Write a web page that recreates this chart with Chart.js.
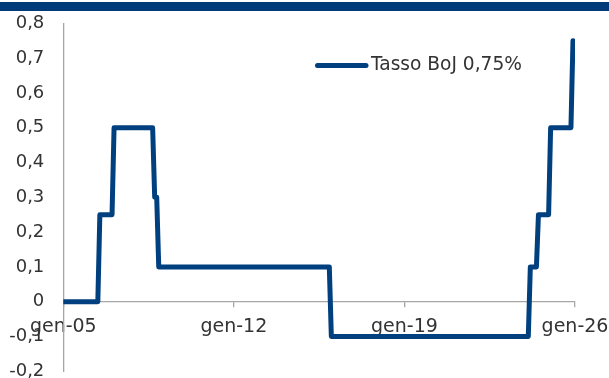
<!DOCTYPE html>
<html>
<head>
<meta charset="utf-8">
<script src="https://cdn.jsdelivr.net/npm/chart.js@4/dist/chart.umd.min.js"></script>
<style>
  html, body { margin: 0; padding: 0; background: #fff; }
  #wrap { position: relative; width: 609px; height: 378px; overflow: hidden; }
  #band { position: absolute; left: 0; top: 2px; width: 609px; height: 9px; background: #003b79; }
  canvas { position: absolute; left: 0; top: 0; }
</style>
</head>
<body>
<div id="wrap">
  <canvas id="c" width="609" height="378"></canvas>
  <div id="band"></div>
</div>
<script>
// Month index counted from January 2005 (0); each rate change spans one month
const months = [0, 17, 18, 24, 25, 44, 45, 46, 47, 131, 132, 229, 230, 233, 234, 239, 240, 250, 251];
const rates  = [0, 0, 0.25, 0.25, 0.5, 0.5, 0.3, 0.3, 0.1, 0.1, -0.1, -0.1, 0.1, 0.1, 0.25, 0.25, 0.5, 0.5, 0.75];

const tickMonths = [0, 84, 168, 252];
const tickLabels = ['gen-05', 'gen-12', 'gen-19', 'gen-26'];
const seriesLabel = 'Tasso BoJ 0,75%';

const navy = '#00407f';
const axisGrey = '#a6a6a6';
const textColor = '#333333';
const fontFamily = '"DejaVu Sans", sans-serif';

function fmt(v) {
  const r = Math.round(v * 10) / 10;
  return r === 0 ? '0' : String(r).replace('.', ',');
}

// Legend drawn inside the plot: thick line sample followed by the series label
const legendLine = {
  id: 'legendLine',
  afterDraw(chart) {
    const ds = chart.data.datasets[0];
    const c = chart.ctx;
    c.save();
    c.strokeStyle = ds.borderColor;
    c.lineWidth = 5;
    c.lineCap = 'round';
    c.beginPath();
    c.moveTo(317.5, 65.5);
    c.lineTo(366, 65.5);
    c.stroke();
    c.font = '18.6px ' + fontFamily;
    c.fillStyle = textColor;
    c.textBaseline = 'middle';
    c.fillText(ds.label, 371, 65.5);
    c.restore();
  }
};

new Chart(document.getElementById('c'), {
  type: 'line',
  data: {
    datasets: [{
      label: seriesLabel,
      data: months.map((m, i) => ({ x: m, y: rates[i] })),
      borderColor: navy,
      borderWidth: 5,
      borderCapStyle: 'round',
      borderJoinStyle: 'round',
      pointRadius: 0,
      tension: 0,
      fill: false
    }]
  },
  options: {
    responsive: false,
    animation: false,
    layout: { padding: { left: 0, top: 23.3, right: 34, bottom: 6.7 } },
    plugins: { legend: { display: false }, tooltip: { enabled: false } },
    scales: {
      x: {
        type: 'linear',
        min: 0,
        max: 252,
        position: { y: 0 },
        afterBuildTicks: s => { s.ticks = tickMonths.map(v => ({ value: v })); },
        afterFit: s => { s.height = 0; s.paddingLeft = 0; s.paddingRight = 0; },
        ticks: {
          callback: v => tickLabels[tickMonths.indexOf(v)],
          font: { family: fontFamily, size: 19 },
          color: textColor,
          padding: 9,
          maxRotation: 0,
          autoSkip: false
        },
        grid: { drawOnChartArea: false, drawTicks: true, tickLength: 5, color: axisGrey, lineWidth: 1.3 },
        border: { display: true, color: axisGrey, width: 1.3 }
      },
      y: {
        min: -0.2,
        max: 0.8,
        afterFit: s => { s.width = 63.3; s.paddingTop = 0; s.paddingBottom = 0; },
        ticks: {
          stepSize: 0.1,
          callback: v => fmt(v),
          font: { family: fontFamily, size: 18 },
          color: textColor,
          padding: 19
        },
        grid: { display: false, drawTicks: false },
        border: { display: true, color: axisGrey, width: 1.3 }
      }
    }
  },
  plugins: [legendLine]
});
</script>
</body>
</html>
